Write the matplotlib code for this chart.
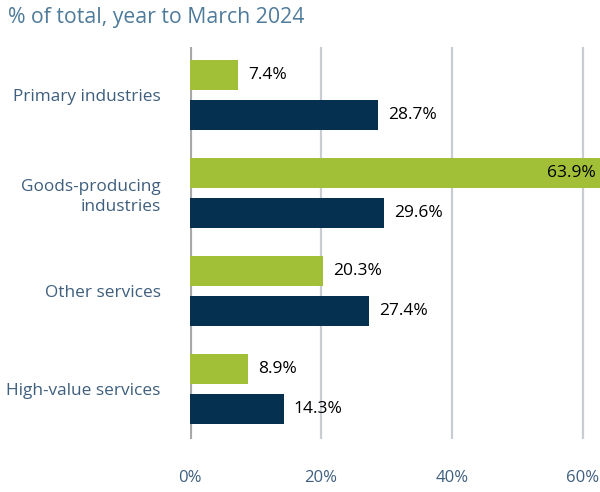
import matplotlib
matplotlib.use('Agg')
import matplotlib.pyplot as plt
import numpy as np

categories = ['Primary industries', 'Goods-producing\nindustries', 'Other services', 'High-value services']
green_vals = [7.4, 63.9, 20.3, 8.9]
navy_vals = [28.7, 29.6, 27.4, 14.3]
x_ticks = [0, 20, 40, 60]

green = '#a2c037'
navy = '#06304f'
label_col = '#3f5f7d'

plt.rcParams['font.family'] = ['Open Sans', 'DejaVu Sans']

fig = plt.figure(figsize=(6, 4.92), dpi=100)
ax = fig.add_axes([190 / 600, 53 / 492, 410 / 600, 392 / 492])

y = np.arange(len(categories))
off = 0.2015
h = 0.306
ax.barh(y - off, green_vals, height=h, color=green, zorder=3)
ax.barh(y + off, navy_vals, height=h, color=navy, zorder=3)

xmax = 410 / 6.55
ax.set_xlim(0, xmax)
ax.set_ylim(3.508, -0.492)

# value labels, the long bar gets its label inside
for yi, v in zip(y - off, green_vals):
    if v + 4 > xmax:
        ax.text(xmax - 0.7, yi, f'{v:.1f}%', ha='right', va='center', fontsize=12.5, color='black', zorder=4)
    else:
        ax.text(v + 1.5, yi, f'{v:.1f}%', ha='left', va='center', fontsize=12.5, color='black', zorder=4)
for yi, v in zip(y + off, navy_vals):
    ax.text(v + 1.5, yi, f'{v:.1f}%', ha='left', va='center', fontsize=12.5, color='black', zorder=4)

# gridlines and zero line
for t in x_ticks[1:]:
    ax.axvline(t, color='#c9cdd2', lw=1.6, zorder=1)
ax.axvline(0, color='#a8a8a8', lw=3, zorder=2)

for s in ax.spines.values():
    s.set_visible(False)

ax.set_xticks(x_ticks)
ax.set_xticklabels([f'{t}%' for t in x_ticks], fontsize=12, color=label_col)
ax.set_yticks(y)
ax.set_yticklabels(categories, fontsize=12.4, color=label_col, linespacing=1.35)
ax.tick_params(axis='x', length=0, pad=22)
ax.tick_params(axis='y', length=0, pad=21)

fig.text(8 / 600, 1 - 18 / 492, '% of total, year to March 2024', fontsize=15.3,
         color='#4f7b9b', ha='left', va='center')

fig.savefig('out.png', dpi=100)
